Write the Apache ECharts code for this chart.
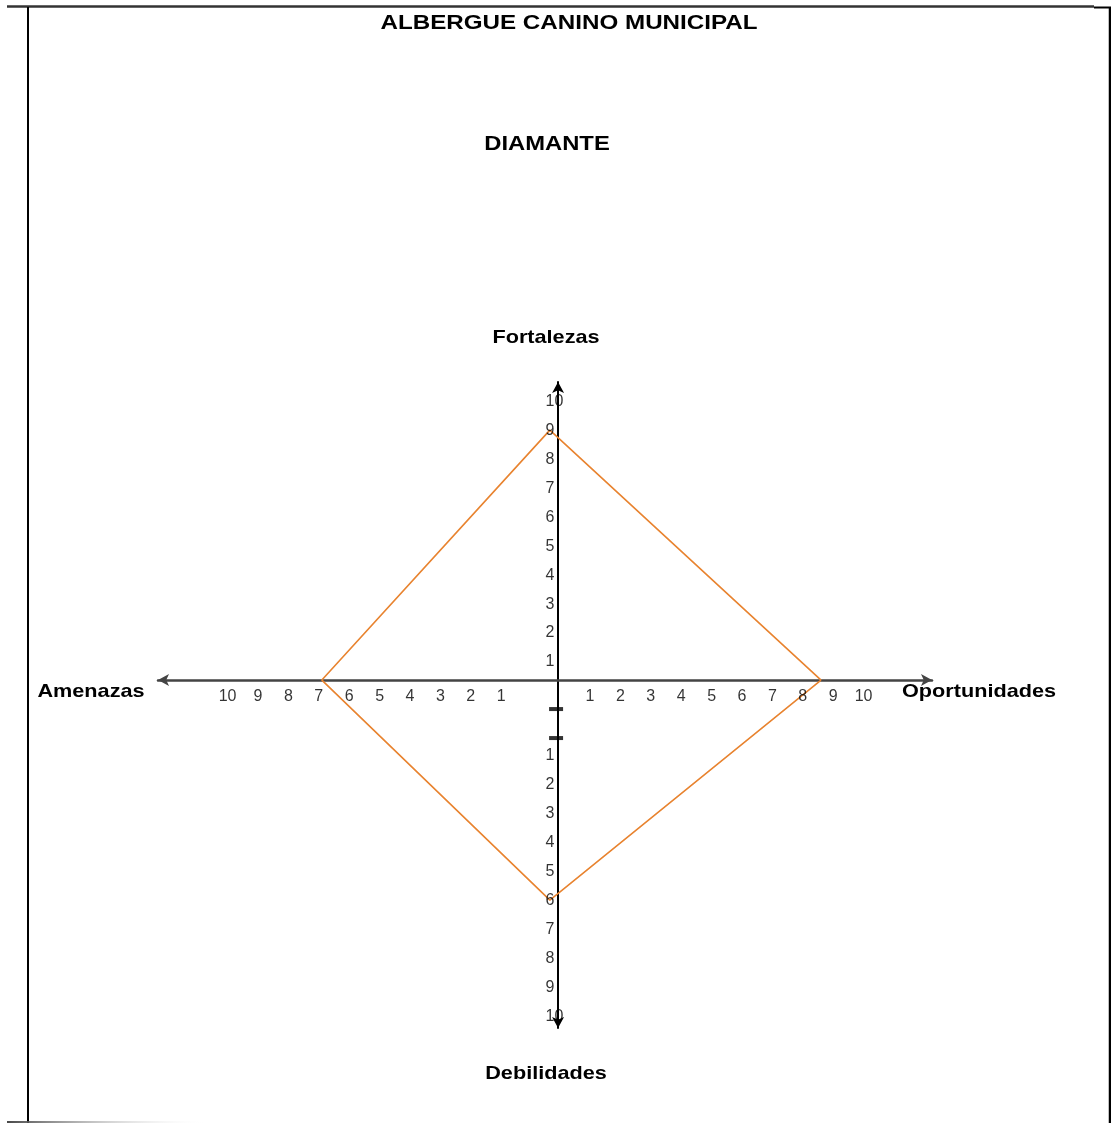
<!DOCTYPE html>
<html>
<head>
<meta charset="utf-8">
<script src="https://cdn.jsdelivr.net/npm/echarts@6/dist/echarts.min.js"></script>
<style>
  html, body { margin: 0; padding: 0; background: #fff; }
  #chart { width: 1111px; height: 1123px; }
</style>
</head>
<body>
<div id="chart"></div>
<script>
// diamond values
const DIRECTIONS = ['Fortalezas', 'Oportunidades', 'Debilidades', 'Amenazas'];
const VALUES = [9, 8.6, 6, 6.9];
const TICKS = [1, 2, 3, 4, 5, 6, 7, 8, 9, 10];
const MARKS = [-1, -2];   // the two little dashes under the centre

// each arm's numbering starts a bit off the crossing in the original drawing
const SHIFT = { top: -0.38, right: 0.05, bottom: 1.59, left: 0.87 };
const DX = -0.27; // diamond's vertical corners sit slightly left of the axis

const FONT = "'Liberation Sans', Arial, sans-serif";

var myChart = echarts.init(document.getElementById('chart'));

const F = VALUES[0], O = VALUES[1], D = VALUES[2], A = VALUES[3];
const diamond = [
  [O + SHIFT.right, 0],
  [DX, F + SHIFT.top],
  [-(A + SHIFT.left), 0],
  [DX, -(D + SHIFT.bottom)],
  [O + SHIFT.right, 0]
];

function tickSeries(data, offset, align) {
  return {
    type: 'scatter',
    silent: true,
    symbolSize: 1,
    itemStyle: { color: 'rgba(0,0,0,0)' },
    z: 5,
    label: {
      show: true,
      position: 'inside',
      offset: offset,
      align: align,
      verticalAlign: 'middle',
      color: '#000',
      fontFamily: FONT,
      fontSize: 16,
      formatter: p => p.data[2]
    },
    data: data
  };
}

function bigText(txt, x, y, size, sx) {
  return {
    type: 'text', x: x, y: y, scaleX: sx, z: 10,
    style: {
      text: txt, fill: '#000', fontFamily: FONT, fontWeight: 'bold', fontSize: size,
      textAlign: 'center', textVerticalAlign: 'middle'
    }
  };
}

myChart.setOption({
  animation: false,
  backgroundColor: '#fff',
  grid: { left: 158, right: 179, top: 382, bottom: 95 },
  xAxis: {
    type: 'value', min: -13.16, max: 12.3,
    axisLine: { onZero: true, symbol: ['arrow', 'arrow'], symbolSize: [9, 11],
      lineStyle: { color: '#444', width: 2.5 } },
    axisTick: { show: false }, axisLabel: { show: false }, splitLine: { show: false }
  },
  yAxis: {
    type: 'value', min: -12, max: 10.28,
    axisLine: { onZero: true, symbol: ['arrow', 'arrow'], symbolSize: [9, 11],
      lineStyle: { color: '#000', width: 2 } },
    axisTick: { show: false }, axisLabel: { show: false }, splitLine: { show: false }
  },
  graphic: [
    bigText('ALBERGUE CANINO MUNICIPAL', 569, 23, 20.5, 1.18),
    bigText('DIAMANTE', 547, 144, 20.5, 1.16),
    bigText(DIRECTIONS[0], 546, 338, 19, 1.14),
    bigText(DIRECTIONS[1], 979, 692, 19, 1.14),
    bigText(DIRECTIONS[2], 546, 1074, 19, 1.14),
    bigText(DIRECTIONS[3], 91, 692, 19, 1.14),
    // page frame
    { type: 'line', shape: { x1: 7, y1: 6.5, x2: 1094, y2: 6.5 }, style: { stroke: '#333', lineWidth: 2.5 } },
    { type: 'line', shape: { x1: 1094, y1: 7.5, x2: 1111, y2: 7.5 }, style: { stroke: '#000', lineWidth: 2 } },
    { type: 'line', shape: { x1: 28, y1: 7, x2: 28, y2: 1123 }, style: { stroke: '#000', lineWidth: 2 } },
    { type: 'line', shape: { x1: 1110, y1: 7, x2: 1110, y2: 1123 }, style: { stroke: '#000', lineWidth: 2.5 } },
    { type: 'line', shape: { x1: 7, y1: 1122, x2: 205, y2: 1122 },
      style: { lineWidth: 2, stroke: new echarts.graphic.LinearGradient(0, 0, 1, 0, [
        { offset: 0, color: '#444' }, { offset: 1, color: 'rgba(255,255,255,0)' }]) } }
  ],
  series: [
    {
      name: 'diamante',
      type: 'line',
      silent: true,
      symbol: 'none',
      z: 4,
      lineStyle: { color: '#E8832F', width: 1.6 },
      data: diamond
    },
    {
      type: 'scatter',
      silent: true,
      symbol: 'rect',
      symbolSize: [14, 4],
      symbolOffset: [-2, 0],
      itemStyle: { color: '#000' },
      z: 6,
      data: MARKS.map(m => [0, m])
    },
    tickSeries(TICKS.map(v => [v + SHIFT.right, 0, v]), [0, 17], 'center'),
    tickSeries(TICKS.map(v => [-(v + SHIFT.left), 0, v]), [0, 17], 'center'),
    tickSeries(TICKS.map(v => [0, v + SHIFT.top, v]), [-12.5, 0], 'left'),
    tickSeries(TICKS.map(v => [0, -(v + SHIFT.bottom), v]), [-12.5, 0], 'left')
  ]
});
</script>
</body>
</html>
